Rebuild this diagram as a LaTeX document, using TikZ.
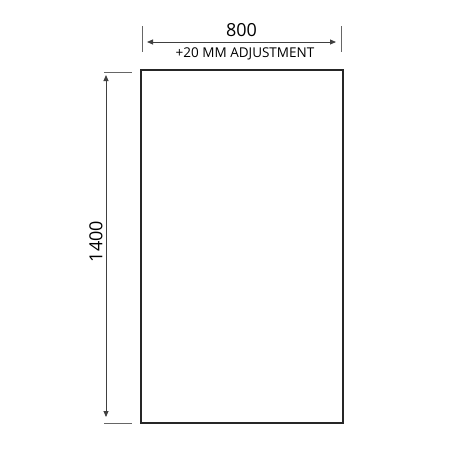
\documentclass[tikz,border=0pt]{standalone}
\usepackage{fontspec}
\setmainfont{Open Sans}
\usetikzlibrary{arrows.meta}
\begin{document}
\begin{tikzpicture}[x=1pt,y=-1pt,
  dimline/.style={line width=0.9pt,draw=black!75,{Triangle[length=6pt,width=5pt]}-{Triangle[length=6pt,width=5pt]}},
  extline/.style={line width=0.8pt,draw=black!60},
  panel/.style={draw=black!85,line width=1.6pt}]
\useasboundingbox (0,0) rectangle (450,450);
\draw[panel] (141,70) rectangle (343,423);
% horizontal dimension
\coordinate (tl1) at (142,26); \coordinate (tl2) at (142,52);
\coordinate (tr1) at (341,26); \coordinate (tr2) at (341,52);
\draw[extline] (tl1) -- (tl2);
\draw[extline] (tr1) -- (tr2);
\coordinate (ha) at (147,42); \coordinate (hb) at (336,42);
\draw[dimline] (ha) -- (hb);
\node[font=\fontsize{18}{18}\selectfont] (w) at (241.5,30) {800};
\node[font=\fontsize{13.5}{13.5}\selectfont] (adj) at (245,54) {+20 MM ADJUSTMENT};
% vertical dimension
\coordinate (vt1) at (104,72); \coordinate (vt2) at (132,72);
\coordinate (vb1) at (104,423); \coordinate (vb2) at (132,423);
\draw[extline] (vt1) -- (vt2);
\draw[extline] (vb1) -- (vb2);
\coordinate (va) at (106,75); \coordinate (vb) at (106,417);
\draw[dimline] (va) -- (vb);
\node[font=\fontsize{18}{18}\selectfont,rotate=90] (h) at (96,241.5) {1400};
\end{tikzpicture}
\end{document}
